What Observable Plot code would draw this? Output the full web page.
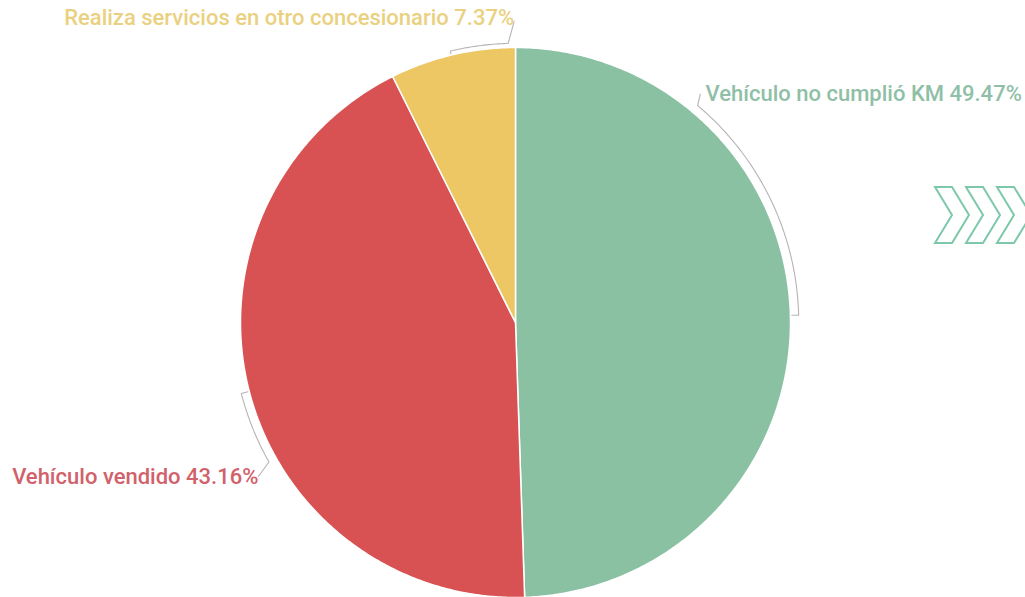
<!DOCTYPE html>
<html>
<head>
<meta charset="utf-8">
<script src="https://cdn.jsdelivr.net/npm/d3@7"></script>
<script src="https://cdn.jsdelivr.net/npm/@observablehq/plot@0.6"></script>
<style>
  html, body { margin: 0; padding: 0; background: #fff; }
  #wrap { position: relative; width: 1025px; height: 597px; overflow: hidden; }
  #chev { position: absolute; left: 0; top: 0; }
</style>
</head>
<body>
<div id="wrap"></div>
<script>
// ---- data ----
const categories = ["Vehículo no cumplió KM", "Vehículo vendido", "Realiza servicios en otro concesionario"];
const shares = [49.47, 43.16, 7.37];
const sliceColors = ["#8bc1a3", "#d95253", "#ecc763"];
const labelColors = ["#8fbfa6", "#d1616a", "#ead17f"];

// ---- geometry helpers (angles clockwise from 12 o'clock) ----
const total = d3.sum(shares);
let acc = 0;
const slices = categories.map((c, i) => {
  const a0 = acc / total * 360;
  acc += shares[i];
  const a1 = acc / total * 360;
  return {key: c, value: shares[i], a0, a1, i};
});
const rad = a => a * Math.PI / 180;
const pt = (a, r) => ({x: r * Math.sin(rad(a)), y: r * Math.cos(rad(a))});

const polys = [];
for (const s of slices) {
  polys.push({key: s.key, i: s.i, ...pt(0, 0)});
  const n = Math.ceil((s.a1 - s.a0) / 0.5);
  for (let k = 0; k <= n; k++) polys.push({key: s.key, i: s.i, ...pt(s.a0 + (s.a1 - s.a0) * k / n, 1)});
  polys.push({key: s.key, i: s.i, ...pt(0, 0)});
}

// leader brackets: arc span within each slice, bracket radius, label anchor
const leaderSpec = [
  {arc: [88.5, 40], r: 1.03, label: {x: 0.672, y: 0.83}, anchor: "start", lx: 0.691, ly: 0.83},
  {arc: [255.5, 240.5], r: 1.03, label: {x: -0.935, y: -0.56}, anchor: "end", lx: -0.935, ly: -0.56},
  {arc: [346.5, 358.5], r: 1.015, label: {x: -0.005, y: 1.095}, anchor: "end", lx: -0.005, ly: 1.108}
];
const leaders = [];
leaderSpec.forEach((L, i) => {
  const key = categories[i];
  const [b0, b1] = L.arc;
  leaders.push({key, ...pt(b0, 1.005)});
  const n = Math.ceil(Math.abs(b1 - b0) / 0.5);
  for (let k = 0; k <= n; k++) leaders.push({key, ...pt(b0 + (b1 - b0) * k / n, L.r)});
  leaders.push({key, x: L.label.x, y: L.label.y});
});
const labels = slices.map((s, i) => ({
  text: `${s.key} ${s.value.toFixed(2)}%`,
  x: leaderSpec[i].lx,
  y: leaderSpec[i].ly,
  anchor: leaderSpec[i].anchor,
  color: labelColors[i]
}));

const chart = Plot.plot({
  width: 1025,
  height: 597,
  margin: 0,
  x: {domain: [-1, 1], range: [240, 790], axis: null},
  y: {domain: [-1, 1], range: [597, 47], axis: null},
  style: {background: "#fff"},
  marks: [
    Plot.line(polys, {x: "x", y: "y", z: "key", fill: d => sliceColors[d.i], stroke: "#fff", strokeWidth: 1.5, curve: "linear"}),
    Plot.line(leaders, {x: "x", y: "y", z: "key", stroke: "#b9b2b4", strokeWidth: 1.1}),
    Plot.text(labels.filter(d => d.anchor === "start"), {x: "x", y: "y", text: "text", fill: "color", textAnchor: "start", fontSize: 22, fontWeight: 500, fontFamily: "Roboto"}),
    Plot.text(labels.filter(d => d.anchor === "end"), {x: "x", y: "y", text: "text", fill: "color", textAnchor: "end", fontSize: 22, fontWeight: 500, fontFamily: "Roboto"})
  ]
});
document.getElementById("wrap").appendChild(chart);

// decorative chevrons
const ns = "http://www.w3.org/2000/svg";
const svg = document.createElementNS(ns, "svg");
svg.setAttribute("id", "chev");
svg.setAttribute("width", 1025);
svg.setAttribute("height", 597);
[0, 31, 62].forEach(dx => {
  const p = document.createElementNS(ns, "path");
  const x0 = 935 + dx;
  p.setAttribute("d", `M${x0},187 L${x0+17},187 L${x0+34},215 L${x0+17},243 L${x0},243 L${x0+17},215 Z`);
  p.setAttribute("fill", "none");
  p.setAttribute("stroke", "#7cc8a8");
  p.setAttribute("stroke-width", 2);
  p.setAttribute("stroke-linejoin", "miter");
  svg.appendChild(p);
});
document.getElementById("wrap").appendChild(svg);
</script>
</body>
</html>
